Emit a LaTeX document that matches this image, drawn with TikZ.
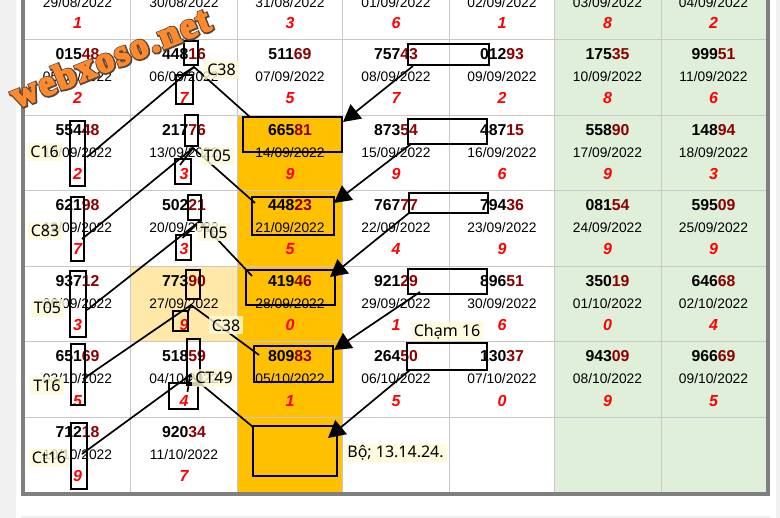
\documentclass[tikz,border=0pt]{standalone}
\usepackage{fontspec}
\setmainfont{Liberation Sans}
\newfontfamily\notefont{Noto Sans}
\newfontfamily\stampfont[LetterSpace=6,FakeBold=5]{Liberation Serif}
\newfontfamily\stampedge[LetterSpace=6,FakeBold=12]{Liberation Serif}
\usetikzlibrary{arrows.meta}
\definecolor{darkred}{HTML}{8B0000}
\definecolor{prizered}{HTML}{FF0000}
\definecolor{weekgreen}{HTML}{E0EFDA}
\definecolor{hitorange}{HTML}{FFC000}
\definecolor{hityellow}{HTML}{FFE8A8}
\definecolor{notebg}{HTML}{FFFBD8}
\definecolor{framegray}{HTML}{7F7F7F}
\definecolor{gridgray}{HTML}{C8C8C8}
\definecolor{pagegray}{HTML}{F0F0F0}
\definecolor{stamporange}{HTML}{FF8A2E}
\definecolor{stampdark}{HTML}{5A4638}
\newcommand{\splitnum}[5]{#1#2#3\textcolor{darkred}{#4#5}}
\newcommand{\markbox}[5]{\node[markbox,minimum width={(#4-#2)*1pt},minimum height={(#5-#3)*1pt}] (#1) at ({(#2+#4)/2},{(#3+#5)/2}) {};}
\newcommand{\dayrow}[5]{%
  \foreach \cx/\n/\dd/\mm/\r [count=\c] in {#5} {
    \node[numtext] (num-#1-\c) at (\cx,#2) {\expandafter\splitnum\n};
    \node[datetext] (date-#1-\c) at (\cx,#3) {\dd/\mm/2022};
    \node[prizetext] (prize-#1-\c) at (\cx,#4) {\r};
  }}
\begin{document}
\begin{tikzpicture}
[
    x=1pt, y=-1pt,
    numtext/.style={inner sep=0pt, font=\fontsize{15.8}{18}\selectfont\bfseries},
    datetext/.style={inner sep=0pt, font=\fontsize{13.8}{16}\selectfont},
    prizetext/.style={inner sep=0pt, text=prizered, font=\fontsize{16}{18}\selectfont\bfseries\itshape},
    markbox/.style={draw=black, line width=1.7pt, inner sep=0pt, outer sep=0pt},
    link/.style={draw=black, line width=1.7pt},
    hitarrow/.style={draw=black, line width=1.7pt, -{Triangle[length=17pt,width=18pt]}},
    notelabel/.style={fill=notebg, fill opacity=0.8, text opacity=1, inner xsep=3pt, inner ysep=0pt, minimum height=18pt, font=\notefont\fontsize{16}{18}\selectfont},
]
\clip (0,0) rectangle (780,518);
\fill[white] (0,0) rectangle (780,518);
\fill[pagegray] (0,0) rectangle (16,518);
\fill[pagegray] (776,0) rectangle (780,518);
\fill[pagegray] (21,516) rectangle (770,518);
\fill[weekgreen] (554,0) rectangle (766,492);
\fill[hitorange] (237,115.7) rectangle (342.5,492);
\fill[hityellow] (130.6,266) rectangle (237,341.5);
\foreach \gy in {39,115.7,190.7,266,341.5,417} {
  \draw[gridgray, line width=0.8pt] (25,\gy) -- (766,\gy);
}
\foreach \gx in {130.6,237,342.5,449,554,661} {
  \draw[gridgray, line width=0.8pt] (\gx,0) -- (\gx,492);
}
\draw[framegray, line width=4pt] (23,-5) -- (23,494) -- (768,494) -- (768,-5);

\foreach \cx/\dd/\mm/\r [count=\c] in {77.5/29/08/1,184/30/08/{},290/31/08/3,396/01/09/6,502/02/09/1,607.5/03/09/8,713.5/04/09/2} {
  \node[datetext] (date-1-\c) at (\cx,3) {\dd/\mm/2022};
  \node[prizetext] (prize-1-\c) at (\cx,23) {\r};
}
\dayrow{2}{54}{77}{98}{77.5/01548/05/09/2,184/44816/06/09/7,290/51169/07/09/5,396/75743/08/09/7,502/01293/09/09/2,607.5/17535/10/09/8,713.5/99951/11/09/6}
\dayrow{3}{130}{153}{174}{77.5/55448/12/09/2,184/21776/13/09/3,290/66581/14/09/9,396/87354/15/09/9,502/48715/16/09/6,607.5/55890/17/09/9,713.5/14894/18/09/3}
\dayrow{4}{205}{228}{249}{77.5/62198/19/09/7,184/50221/20/09/3,290/44823/21/09/5,396/76777/22/09/4,502/79436/23/09/9,607.5/08154/24/09/9,713.5/59509/25/09/9}
\dayrow{5}{281}{304}{325}{77.5/93712/26/09/3,184/77390/27/09/9,290/41946/28/09/0,396/92129/29/09/1,502/89651/30/09/6,607.5/35019/01/10/0,713.5/64668/02/10/4}
\dayrow{6}{356}{379}{401}{77.5/65169/03/10/5,184/51859/04/10/4,290/80983/05/10/1,396/26450/06/10/5,502/13037/07/10/0,607.5/94309/08/10/9,713.5/96669/09/10/5}
\dayrow{7}{432}{455}{476}{77.5/71218/10/10/9,184/92034/11/10/7}

\markbox{topa}{184}{41}{198}{65}
\markbox{lowa}{176}{75}{193}{104}
\markbox{hita}{243}{117}{342}{152}
\markbox{pairb}{408}{44}{489}{65}
\markbox{sidea}{70}{121}{85}{186}
\markbox{topb}{185}{115}{198}{146}
\markbox{lowb}{175}{159}{191}{184}
\markbox{hitb}{252}{197}{334}{235}
\markbox{pairc}{408}{119}{487}{144}
\markbox{sideb}{71}{197}{84}{261}
\markbox{topc}{188}{195}{201}{220}
\markbox{lowc}{176}{235}{191}{260}
\markbox{hitc}{246}{270}{335}{305}
\markbox{paird}{409}{193}{488}{213}
\markbox{sidec}{70}{271}{86}{337}
\markbox{topd}{186}{270}{200}{299}
\markbox{lowd}{173}{311}{188}{331}
\markbox{hitd}{254}{346}{333}{382}
\markbox{paire}{408}{269}{487}{294}
\markbox{sided}{71}{344}{85}{405}
\markbox{tope}{187}{339}{200}{385}
\markbox{lowe}{169}{383}{198}{409}
\markbox{hite}{253}{426}{337}{476}
\markbox{pairf}{407}{343}{487}{370}
\markbox{sidee}{71}{423}{87}{489}

\coordinate (apexa) at (194,67);
\coordinate (apexb) at (193,148);
\coordinate (apexc) at (200,221);
\coordinate (apexd) at (191,305);
\coordinate (apexe) at (190,375);
\foreach \src/\sx/\sy/\apex/\dst/\ex/\ey/\low/\tx/\ty in {
    sidea/2/-3.5/apexa/hita/7/0/lowa/-3/0,
    sideb/-2/-10/apexb/hitb/3/6/lowb/-3/6,
    sidec/1/-6/apexc/hitc/6/6/lowc/-1/3,
    sided/-2/-4.5/apexd/hitd/5/9/lowd/7/2,
    sidee/-5/2/apexe/hite/0/1/lowe/4/9} {
  \draw[link] ([xshift=\sx pt,yshift=\sy pt]\src.east) -- (\apex) -- ([xshift=\ex pt,yshift=-\ey pt]\dst.north west);
  \draw[link] (\apex) -- ([xshift=\tx pt,yshift=-\ty pt]\low.north);
}
\draw[hitarrow] ([xshift=5pt,yshift=-1pt]pairb.south west) -- ([xshift=1pt,yshift=-5pt]hita.north east);
\draw[hitarrow] (pairc.south west) ++(3,0) -- ([yshift=-6pt]hitb.north east);
\draw[hitarrow] (paird.south west) -- ([xshift=-5pt,yshift=-7pt]hitc.north east);
\draw[hitarrow] ([xshift=12pt,yshift=2pt]paire.south west) -- ([xshift=1pt,yshift=-4pt]hitd.north east);
\draw[hitarrow] ([xshift=3pt]pairf.south west) -- ([xshift=-9pt,yshift=-12pt]hite.north east);

\node[notelabel] (note-c38a) at (221.5,70) {C38};
\node[notelabel] (note-c16) at (44.5,152) {C16};
\node[notelabel] (note-t05a) at (217.5,156) {T05};
\node[notelabel] (note-c83) at (45,231) {C83};
\node[notelabel] (note-t05b) at (214,232.5) {T05};
\node[notelabel] (note-t05c) at (47.5,308) {T05};
\node[notelabel] (note-c38b) at (226,325.5) {C38};
\node[notelabel] (note-t16) at (47,386) {T16};
\node[notelabel] (note-ct49) at (214,378) {CT49};
\node[notelabel] (note-ct16) at (49,458) {Ct16};
\node[notelabel] (note-bo) at (395.5,453) {Bộ; 13.14.24.};
\node[notelabel] (note-cham) at (447,331.5) {Chạm 16};

\node[rotate=22, text=stampdark, font=\stampedge\bfseries\fontsize{36.5}{42}\selectfont] (stamp-edge) at (110.5,57.5) {webxoso.net};
\node[rotate=22, text=stamporange, font=\stampfont\bfseries\fontsize{36.5}{42}\selectfont] (stamp) at (110,57) {webxoso.net};
\end{tikzpicture}
\end{document}
